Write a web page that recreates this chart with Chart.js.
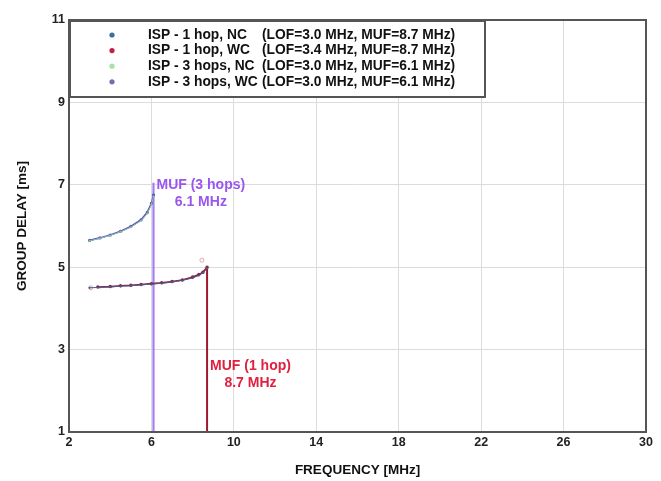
<!DOCTYPE html>
<html><head><meta charset="utf-8">
<script src="https://cdn.jsdelivr.net/npm/chart.js@4/dist/chart.umd.min.js"></script>
<style>html,body{margin:0;padding:0;background:#fff}#wrap{width:661px;height:481px}</style>
</head><body><div id="wrap"><canvas id="c" width="661" height="481"></canvas></div>
<script>
// ---- data ----
const freq1NC  = [3.0, 3.5, 4.0, 4.5, 5.0, 5.5, 6.0, 6.5, 7.0, 7.5, 8.0, 8.3, 8.5, 8.7];
const delay1NC = [4.50,4.51,4.52,4.54,4.55,4.57,4.59,4.61,4.64,4.68,4.74,4.80,4.86,4.97];
const freq1WC  = [3.4, 4.0, 4.5, 5.0, 5.5, 6.0, 6.5, 7.0, 7.5, 8.0, 8.3, 8.5, 8.7];
const delay1WC = [4.52,4.53,4.55,4.56,4.58,4.60,4.62,4.65,4.69,4.76,4.82,4.88,5.00];
const freq3NC  = [3.0, 3.5, 4.0, 4.5, 5.0, 5.5, 5.8, 6.0, 6.1];
const delay3NC = [5.64,5.70,5.77,5.86,5.97,6.13,6.30,6.52,6.72];
const freq3WC  = [3.0, 3.5, 4.0, 4.5, 5.0, 5.5, 5.8, 6.0, 6.1];
const delay3WC = [5.65,5.71,5.78,5.87,5.99,6.15,6.33,6.55,6.75];
const outlierFreq  = [3.05, 8.45];
const outlierDelay = [4.50, 5.17];
const mufFreq  = [8.7, 6.1];          // 1 hop, 3 hops
const mufTop   = [5.0, 7.05];
const mufBottom= [1, 1];
const seriesNames = ['ISP - 1 hop, NC','ISP - 1 hop, WC','ISP - 3 hops, NC','ISP - 3 hops, WC'];
const seriesInfo  = ['(LOF=3.0 MHz, MUF=8.7 MHz)','(LOF=3.4 MHz, MUF=8.7 MHz)','(LOF=3.0 MHz, MUF=6.1 MHz)','(LOF=3.0 MHz, MUF=6.1 MHz)'];
const mufLabels = [['MUF (1 hop)','8.7 MHz'],['MUF (3 hops)','6.1 MHz']];
const xTicks = [2, 6, 10, 14, 18, 22, 26, 30];
const yTicks = [1, 3, 5, 7, 9, 11];

// ---- styles ----
const seriesColors = ['#3b6f9e','#c21f45','#a8e0a8','#6f6fb0'];
const mufColors = ['#a0182f','#a57ef0'];
const mufTextColors = ['#e0203f','#9a55ee'];
const FONT = '"Liberation Sans", Arial, sans-serif';

const pts = (xs, ys) => xs.map((v,i)=>({x:v, y:ys[i]}));

const datasets = [
  {label:seriesNames[0], data:pts(freq1NC,delay1NC), borderColor:'#4a5a8a', backgroundColor:'#4a5a8a', borderWidth:1, pointRadius:0.7, showLine:true},
  {label:seriesNames[2], data:pts(freq3NC,delay3NC), borderColor:'#8fbfa0', backgroundColor:'#8fbfa0', borderWidth:1, pointRadius:0.6, showLine:true},
  {label:seriesNames[1], data:pts(freq1WC,delay1WC), borderColor:'#8e2440', backgroundColor:'#8e2440', borderWidth:1.7, pointRadius:0.9, showLine:true},
  {label:seriesNames[3], data:pts(freq3WC,delay3WC), borderColor:'#5a58c0', backgroundColor:'#5a58c0', borderWidth:1.7, pointRadius:0.8, showLine:true},
  {label:'outliers', data:pts(outlierFreq,outlierDelay), borderColor:'#e8a0b0', backgroundColor:'rgba(255,255,255,0)', borderWidth:1, pointRadius:2, showLine:false},
  {label:'MUF 1 hop', data:[{x:mufFreq[0],y:mufTop[0]},{x:mufFreq[0],y:mufBottom[0]}], borderColor:mufColors[0], borderWidth:2, pointRadius:0, showLine:true},
  {label:'MUF 3 hops', data:[{x:mufFreq[1],y:mufTop[1]},{x:mufFreq[1],y:mufBottom[1]}], borderColor:mufColors[1], borderWidth:2.2, pointRadius:0, showLine:true}
];

const overlay = {
  id:'overlay',
  afterDatasetsDraw(chart){
    const {ctx, chartArea:a, scales:{x,y}} = chart;
    ctx.save();
    // legend box
    const bx=a.left+1, by=a.top+1, bw=415, bh=76;
    ctx.fillStyle='#fff'; ctx.fillRect(bx,by,bw,bh);
    ctx.strokeStyle='#555'; ctx.lineWidth=2; ctx.strokeRect(bx,by,bw,bh);
    ctx.font='bold 13.8px ' + FONT;
    ctx.textBaseline='middle';
    for(let i=0;i<4;i++){
      const ry = by + 14 + i*15.6;
      ctx.fillStyle=seriesColors[i];
      ctx.beginPath(); ctx.arc(a.left+43, ry, 2.6, 0, Math.PI*2); ctx.fill();
      ctx.fillStyle='#111'; ctx.textAlign='left';
      ctx.fillText(seriesNames[i], a.left+79, ry);
      ctx.fillText(seriesInfo[i], a.left+193, ry);
    }
    // MUF labels
    ctx.font='bold 14px ' + FONT;
    ctx.textAlign='left';
    let px = x.getPixelForValue(mufFreq[1]) + 3, py = y.getPixelForValue(7.0);
    ctx.fillStyle=mufTextColors[1];
    ctx.fillText(mufLabels[1][0], px, py);
    let w = ctx.measureText(mufLabels[1][0]).width;
    ctx.textAlign='center'; ctx.fillText(mufLabels[1][1], px + w/2, py+17);
    ctx.textAlign='left';
    px = x.getPixelForValue(mufFreq[0]) + 3; py = y.getPixelForValue(2.6);
    ctx.fillStyle=mufTextColors[0];
    ctx.fillText(mufLabels[0][0], px, py);
    w = ctx.measureText(mufLabels[0][0]).width;
    ctx.textAlign='center'; ctx.fillText(mufLabels[0][1], px + w/2, py+17);
    // plot border
    ctx.strokeStyle='#555'; ctx.lineWidth=2;
    ctx.strokeRect(a.left, a.top, a.right-a.left, a.bottom-a.top);
    ctx.restore();
  }
};

new Chart(document.getElementById('c'), {
  type:'scatter',
  data:{datasets},
  options:{
    responsive:false, animation:false, events:[],
    layout:{padding:{left:14, right:15, top:20, bottom:3}},
    plugins:{legend:{display:false}, tooltip:{enabled:false}},
    scales:{
      x:{type:'linear', min:2, max:30,
         afterBuildTicks:s=>{s.ticks=xTicks.map(v=>({value:v}));},
         afterFit:s=>{s.height=46;},
         grid:{color:'#dcdcdc', drawTicks:false},
         border:{display:false},
         ticks:{padding:3, color:'#222', font:{family:FONT, size:12.5, weight:'bold'}},
         title:{display:true, text:'FREQUENCY [MHz]', color:'#111', font:{family:FONT, size:13.5, weight:'bold'}, padding:{top:0,bottom:0}}},
      y:{type:'linear', min:1, max:11,
         afterBuildTicks:s=>{s.ticks=yTicks.map(v=>({value:v}));},
         afterFit:s=>{s.width=55;},
         grid:{color:'#dcdcdc', drawTicks:false},
         border:{display:false},
         ticks:{padding:4, color:'#222', font:{family:FONT, size:12.5, weight:'bold'}},
         title:{display:true, text:'GROUP DELAY [ms]', color:'#111', font:{family:FONT, size:13.5, weight:'bold'}, padding:{top:0,bottom:0}}}
    }
  },
  plugins:[overlay]
});
</script></body></html>
